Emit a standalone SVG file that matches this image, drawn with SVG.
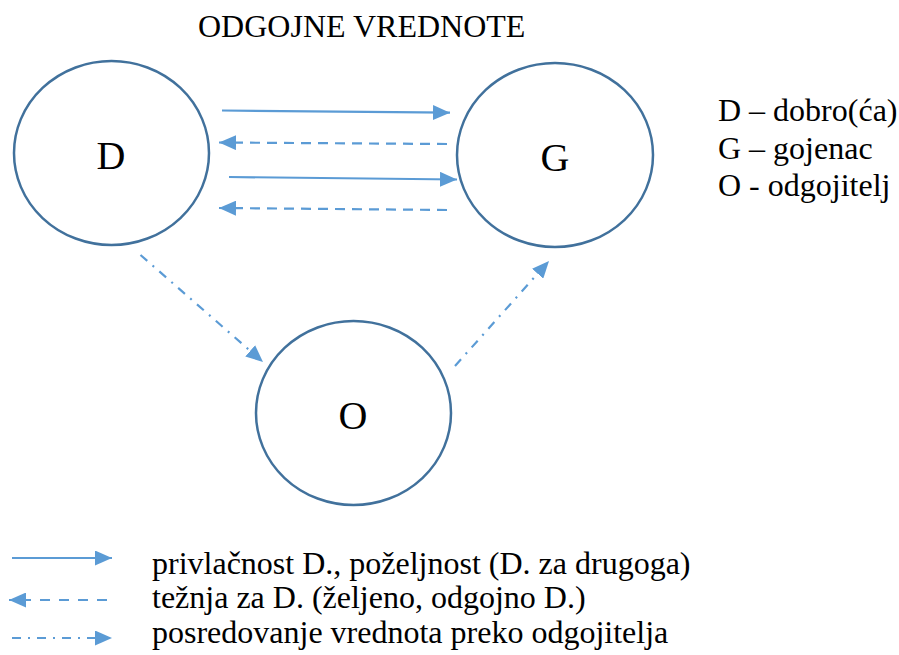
<svg xmlns="http://www.w3.org/2000/svg" width="899" height="655" viewBox="0 0 899 655">
<style>
  text { font-family: "Liberation Serif", "Times New Roman", serif; fill: #000; }
  .node { fill: #fff; stroke: #41719C; stroke-width: 2.5; }
  .lbl { font-size: 40px; text-anchor: middle; }
  .txt { font-size: 32px; }
  .c { fill: none; stroke: #5B9BD5; stroke-width: 2.2; }
  .dash { stroke-dasharray: 10 7; }
  .dd { stroke-dasharray: 9 7 2 7; }
</style>
<defs>
  <marker id="ah" markerUnits="userSpaceOnUse" markerWidth="17" markerHeight="15" refX="17" refY="7.5" orient="auto">
    <path d="M0,0 L17,7.5 L0,15 z" fill="#5B9BD5"/>
  </marker>
</defs>
<rect width="899" height="655" fill="#fff"/>
<text class="txt" x="198" y="37">ODGOJNE VREDNOTE</text>

<g id="node-D">
  <ellipse class="node" cx="111.5" cy="153" rx="97.5" ry="92"/>
  <text class="lbl" x="111" y="169">D</text>
</g>
<g id="node-G">
  <ellipse class="node" cx="555" cy="155" rx="98" ry="92"/>
  <text class="lbl" x="555" y="171">G</text>
</g>
<g id="node-O">
  <ellipse class="node" cx="353.5" cy="413" rx="97.5" ry="92"/>
  <text class="lbl" x="353" y="429">O</text>
</g>

<g id="connectors">
  <line class="c" x1="222" y1="110.5" x2="450" y2="112.7" marker-end="url(#ah)"/>
  <line class="c dash" x1="447" y1="144" x2="219" y2="142.5" marker-end="url(#ah)"/>
  <line class="c" x1="229" y1="177" x2="457" y2="179.5" marker-end="url(#ah)"/>
  <line class="c dash" x1="447" y1="210" x2="219" y2="208" marker-end="url(#ah)"/>
  <line class="c dd" x1="140.5" y1="255" x2="263" y2="362" marker-end="url(#ah)"/>
  <line class="c dd" x1="455" y1="366" x2="549" y2="261" marker-end="url(#ah)"/>
</g>

<g id="legend-key">
  <text class="txt" x="718" y="121">D – dobro(ća)</text>
  <text class="txt" x="718" y="159">G – gojenac</text>
  <text class="txt" x="718" y="196">O - odgojitelj</text>
</g>

<g id="legend">
  <line class="c" x1="12" y1="558" x2="112" y2="558" marker-end="url(#ah)"/>
  <line class="c" x1="107" y1="600" x2="9" y2="600" stroke-dasharray="10 9" marker-end="url(#ah)"/>
  <line class="c dd" x1="12" y1="638" x2="112" y2="638" marker-end="url(#ah)"/>
  <text class="txt" x="152" y="574">privlačnost D., poželjnost (D. za drugoga)</text>
  <text class="txt" x="152" y="608">težnja za D. (željeno, odgojno D.)</text>
  <text class="txt" x="152" y="643">posredovanje vrednota preko odgojitelja</text>
</g>
</svg>
